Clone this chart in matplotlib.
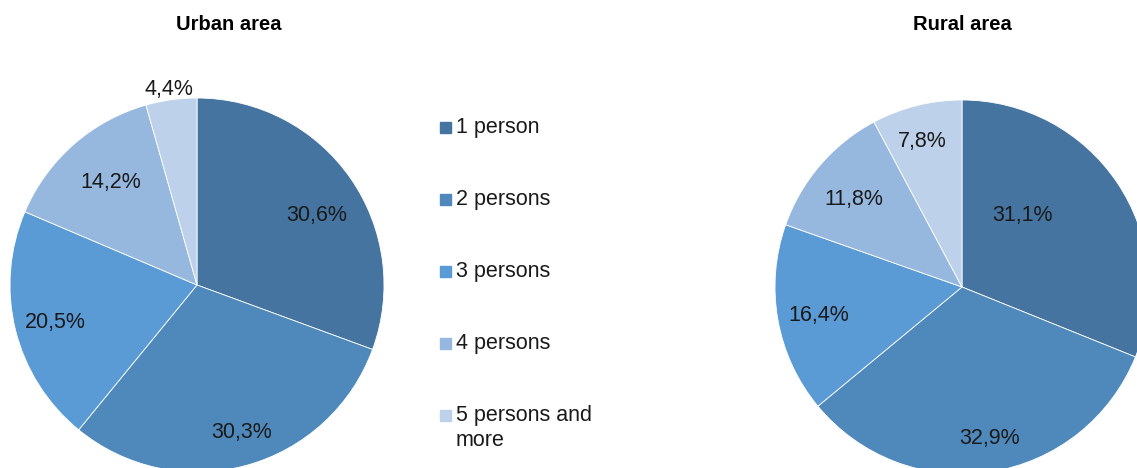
import matplotlib
matplotlib.use('Agg')
import matplotlib.pyplot as plt
import numpy as np
from matplotlib.patches import Rectangle

plt.rcParams['font.family'] = ['Liberation Sans', 'DejaVu Sans']

# Данные
categories = ['1 person', '2 persons', '3 persons', '4 persons', '5 persons and\nmore']
urban_values = [30.6, 30.3, 20.5, 14.2, 4.4]
rural_values = [31.1, 32.9, 16.4, 11.8, 7.8]
colors = ['#44749F', '#4F89BC', '#5A9AD5', '#96B8DF', '#BDD1EA']

W, H = 1137, 468
fig = plt.figure(figsize=(W / 100, H / 100), dpi=100)
R = 187  # радиус круга в пикселях


def pie_axes(cx, cy):
    # оси так, чтобы круг радиуса R был с центром (cx, cy) в пикселях (y сверху)
    return fig.add_axes([(cx - R) / W, (H - cy - R) / H, 2 * R / W, 2 * R / H])


def draw_pie(ax, values, title, title_x, label_dist, angle_shift):
    wedges, _ = ax.pie(values, colors=colors, startangle=90, counterclock=False,
                       radius=1, wedgeprops=dict(linewidth=0.6, edgecolor='white'))
    ax.set_xlim(-1, 1)
    ax.set_ylim(-1, 1)
    ax.set_aspect('auto')
    ax.axis('off')
    for w, v, d, s in zip(wedges, values, label_dist, angle_shift):
        ang = np.deg2rad((w.theta1 + w.theta2) / 2 + s)
        ax.text(d * np.cos(ang), d * np.sin(ang), f'{v:.1f}%'.replace('.', ','),
                ha='center', va='center_baseline', fontsize=15.5, color='#1a1a1a',
                clip_on=False)
    fig.text(title_x / W, 1 - 25 / H, title, ha='center', va='center',
             fontsize=14.5, fontweight='bold')


ax1 = pie_axes(197, 285)
draw_pie(ax1, urban_values, 'Urban area', 229,
         [0.745, 0.81, 0.78, 0.73, 1.07], [-4, 2, 0, -2, 0])

ax2 = pie_axes(962, 287)
draw_pie(ax2, rural_values, 'Rural area', 962,
         [0.51, 0.81, 0.78, 0.75, 0.82], [17, 1.5, 0, 1, 1])

# Легенда
for i, (lab, c) in enumerate(zip(categories, colors)):
    y = 127.5 + i * 72
    fig.patches.append(Rectangle((440 / W, 1 - (y + 5.5) / H), 11 / W, 11 / H,
                                 transform=fig.transFigure, color=c))
    fig.text(456 / W, 1 - (y - 11) / H, lab, ha='left', va='top',
             fontsize=15.5, color='#1a1a1a', linespacing=1.3)

fig.savefig('out.png', dpi=100)
